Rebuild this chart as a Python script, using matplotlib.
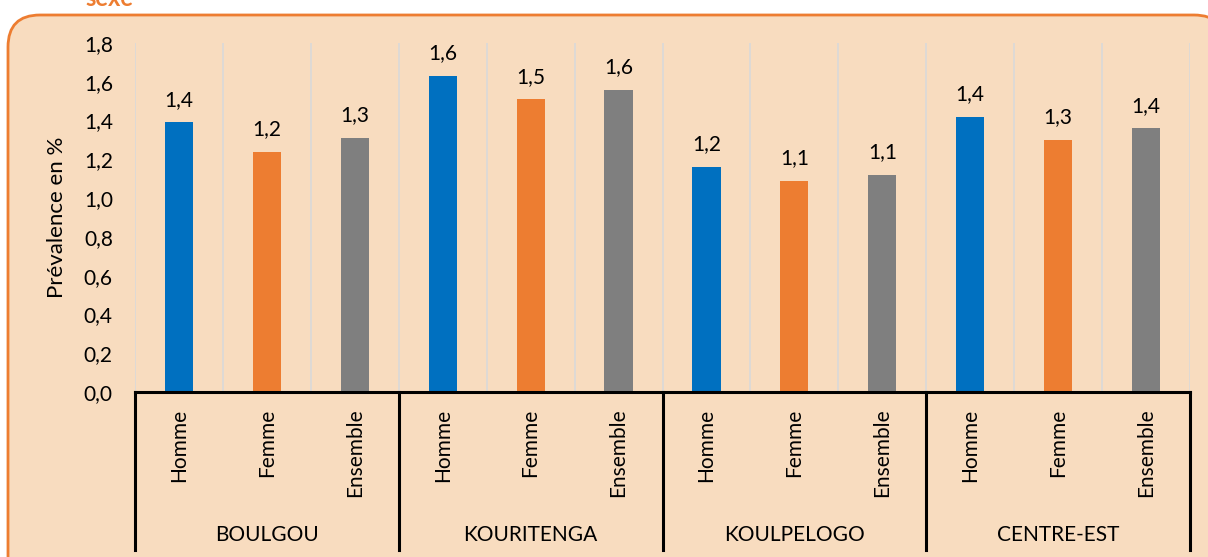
import matplotlib.pyplot as plt
from matplotlib.patches import FancyBboxPatch
from matplotlib.transforms import blended_transform_factory, IdentityTransform

plt.rcParams["font.family"] = ["Lato", "DejaVu Sans"]

regions = ["BOULGOU", "KOURITENGA", "KOULPELOGO", "CENTRE-EST"]
sexes = ["Homme", "Femme", "Ensemble"]
homme = [1.39, 1.63, 1.16, 1.42]
femme = [1.24, 1.51, 1.09, 1.30]
ensemble = [1.31, 1.56, 1.12, 1.36]
colors = ["#0070C0", "#ED7D31", "#7F7F7F"]
yticks = [0.0, 0.2, 0.4, 0.6, 0.8, 1.0, 1.2, 1.4, 1.6, 1.8]

BG = "#F8DCBF"
W, H = 1208, 557
FS = 15

fig = plt.figure(figsize=(W / 100, H / 100), dpi=100)
fig.patch.set_facecolor("white")

box = FancyBboxPatch((8, -40), W + 10, H - 15 + 40,
                     boxstyle="round,pad=0,rounding_size=32",
                     transform=IdentityTransform(), facecolor=BG,
                     edgecolor="#ED7D31", linewidth=2, zorder=-5)
fig.patches.append(box)
fig.text(85 / W, 1 - 6 / H, "sexe", color="#ED7D31", fontsize=17,
         fontweight="bold", va="baseline", ha="left")

ax = fig.add_axes([135 / W, (H - 392) / H, 1055 / W, 349 / H])
ax.patch.set_alpha(0)

series = [homme, femme, ensemble]
vals, cols, labels = [], [], []
for g in range(len(regions)):
    for s in range(3):
        vals.append(series[s][g])
        cols.append(colors[s])
        labels.append(sexes[s])
x = list(range(len(vals)))
bars = ax.bar(x, vals, width=0.32, color=cols, zorder=3)
for b, v in zip(bars, vals):
    ax.annotate(f"{v:.1f}".replace(".", ","), (b.get_x() + b.get_width() / 2, v),
                xytext=(0, 9), textcoords="offset points", ha="center",
                va="bottom", fontsize=FS)

for xv in [i - 0.5 for i in range(len(vals) + 1)]:
    ax.axvline(xv, color="#D9D9D9", lw=1.2, zorder=1)

ax.set_xlim(-0.5, len(vals) - 0.5)
ax.set_ylim(0, 1.8)
ax.set_yticks(yticks)
ax.set_yticklabels([f"{t:.1f}".replace(".", ",") for t in yticks], fontsize=FS)
ax.tick_params(axis="y", length=0, pad=16)
ax.set_ylabel("Prévalence en %", fontsize=16, labelpad=12)
for sp in ["top", "right", "left"]:
    ax.spines[sp].set_visible(False)
ax.spines["bottom"].set_linewidth(2.2)
ax.spines["bottom"].set_zorder(4)

ax.set_xticks(x)
ax.set_xticklabels(labels, rotation=90, fontsize=FS, va="top")
ax.tick_params(axis="x", length=0, pad=12)

tr = blended_transform_factory(ax.transData, ax.transAxes)
ybot = (392 - 550) / 349
for gsep in range(len(regions) + 1):
    xs = gsep * 3 - 0.5
    ax.plot([xs, xs], [0, ybot], color="black", lw=2.2, transform=tr,
            clip_on=False, zorder=5)
for g, name in enumerate(regions):
    ax.text(g * 3 + 1, (392 - 535) / 349, name, transform=tr, ha="center",
            va="center", fontsize=FS)

fig.savefig("out.png", dpi=100, facecolor=fig.get_facecolor())
